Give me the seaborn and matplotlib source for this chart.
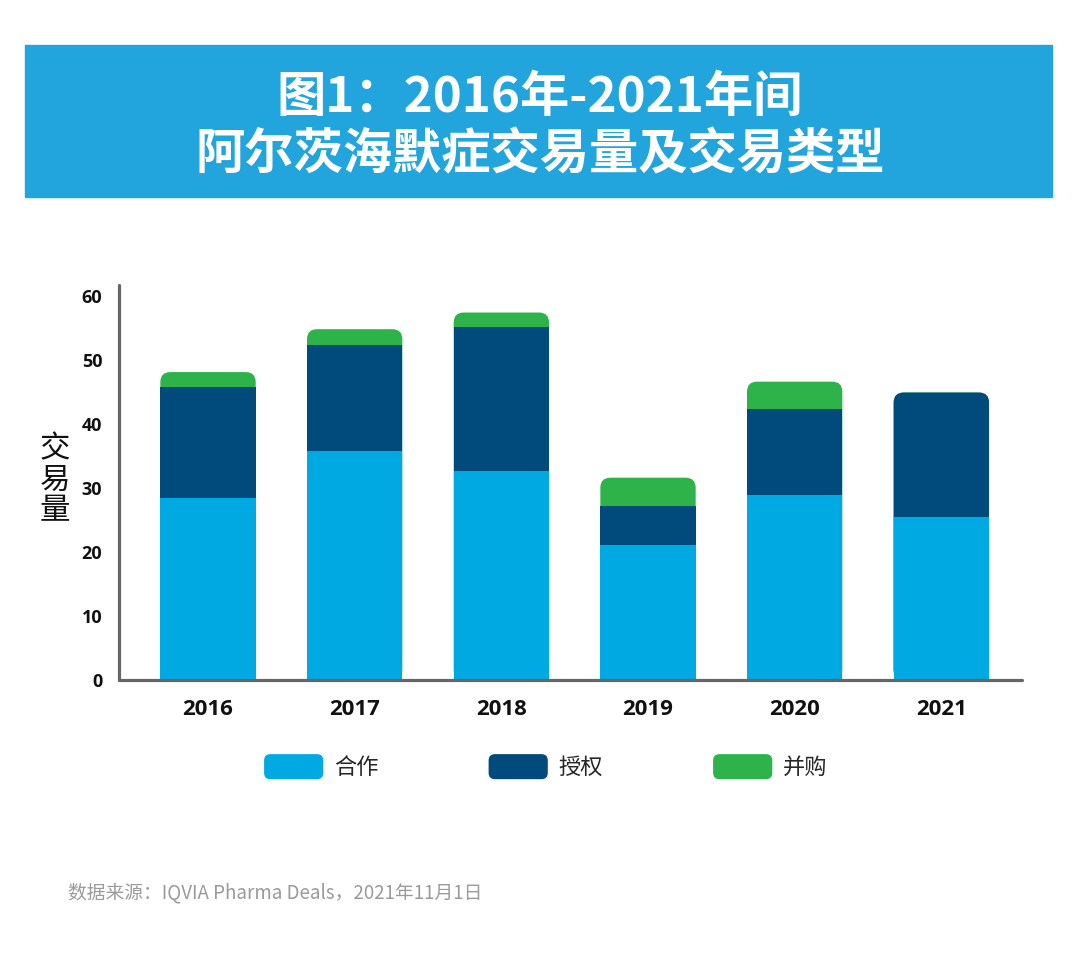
import numpy as np
import pandas as pd
import seaborn as sns
import matplotlib.pyplot as plt
from matplotlib.patches import FancyBboxPatch, Rectangle, Patch
from matplotlib.legend_handler import HandlerPatch

# data
years = ["2016", "2017", "2018", "2019", "2020", "2021"]
hezuo = [28.5, 35.8, 32.6, 21.1, 28.9, 25.4]      # 合作
shouquan = [17.2, 16.6, 22.6, 6.1, 13.4, 19.5]    # 授权
binggou = [2.4, 2.4, 2.2, 4.4, 4.3, 0.0]          # 并购
series_names = ["合作", "授权", "并购"]
colors = ["#00a9e2", "#004a7c", "#2db34a"]
yticks = [0, 10, 20, 30, 40, 50, 60]

df = pd.DataFrame({"year": years, "合作": hezuo, "授权": shouquan, "并购": binggou})
# cumulative levels so that bars can be overlaid back to front
df["lvl1"] = df["合作"]
df["lvl2"] = df["lvl1"] + df["授权"]
df["lvl3"] = df["lvl2"] + df["并购"]

sns.set_theme(style="white")
plt.rcParams["font.family"] = ["Noto Sans CJK SC", "DejaVu Sans"]

W, H = 1080, 976
fig = plt.figure(figsize=(W / 100, H / 100), dpi=100)
fig.patch.set_facecolor("white")

# title banner
fig.add_artist(Rectangle((25 / W, 1 - 197 / H), (1052 - 25) / W, (197 - 45) / H,
                         transform=fig.transFigure, color="#22a5dc", zorder=0))
fig.text(0.5, 1 - 97 / H, "图1：2016年-2021年间", color="white", fontsize=35.5,
         fontweight="bold", ha="center", va="center")
fig.text(0.5, 1 - 155 / H, "阿尔茨海默症交易量及交易类型", color="white", fontsize=35.5,
         fontweight="bold", ha="center", va="center")

ax = fig.add_axes([119 / W, 1 - 680 / H, (1022 - 119) / W, (680 - 285) / H])

layers = ["lvl3", "lvl2", "lvl1"]
for z, (col, c) in enumerate(zip(layers, colors[::-1])):
    sns.barplot(data=df, x="year", y=col, color=c, width=0.65, saturation=1,
                errorbar=None, ax=ax, zorder=1 + z, linewidth=0, edgecolor="none")

xlim = (-0.607, 5.55)
ylim = (0, 61.7)
ax.set_xlim(*xlim)
ax.set_ylim(*ylim)

# round the top corners of each stack
xpp = (1022 - 119) / (xlim[1] - xlim[0])
ypp = (680 - 285) / (ylim[1] - ylim[0])
r = 10 / xpp
asp = xpp / ypp
totals = df["lvl3"].to_numpy()
for i, p in enumerate(list(ax.patches)):
    k = i % len(years)
    if abs(p.get_height() - totals[k]) < 1e-6:
        rp = FancyBboxPatch((p.get_x(), p.get_y()), p.get_width(), p.get_height(),
                            boxstyle=f"round,pad=0,rounding_size={r}",
                            mutation_aspect=asp, fc=p.get_facecolor(), ec="none",
                            lw=0, zorder=p.get_zorder())
        p.remove()
        ax.add_patch(rp)

for s in ["top", "right"]:
    ax.spines[s].set_visible(False)
for s in ["left", "bottom"]:
    ax.spines[s].set_color("#666666")
    ax.spines[s].set_linewidth(2.3)
    ax.spines[s].set_capstyle("round")
    ax.spines[s].set_zorder(6)

ax.set_yticks(yticks)
ax.set_yticklabels([str(t) for t in yticks])
ax.tick_params(axis="y", length=0, pad=12, labelsize=13)
ax.tick_params(axis="x", length=0, pad=14, labelsize=16)
for lab in ax.get_yticklabels() + ax.get_xticklabels():
    lab.set_fontweight("bold")
    lab.set_family(["Open Sans", "DejaVu Sans"])
    lab.set_color("#111111")
ax.set_xlabel("")
ax.set_ylabel("")

fig.text(55 / W, 1 - 480 / H, "交\n易\n量", fontsize=22, ha="center", va="center",
         linespacing=1.0, color="#111111")


def rounded_handle(legend, orig_handle, xdescent, ydescent, width, height, fontsize):
    return FancyBboxPatch((-xdescent, -ydescent), width, height,
                          boxstyle="round,pad=0,rounding_size=4")


handles = [Patch(color=c, label=n) for n, c in zip(series_names, colors)]
fig.legend(handles=handles, loc="center", bbox_to_anchor=(546 / W, 1 - 767 / H), ncol=3,
           frameon=False, fontsize=16, handlelength=2.6, handleheight=1.26,
           handletextpad=0.5, columnspacing=5.0,
           handler_map={Patch: HandlerPatch(patch_func=rounded_handle)})

fig.text(68 / W, 1 - 893 / H, "数据来源：IQVIA Pharma Deals，2021年11月1日",
         color="#9a9a9a", fontsize=13.5, ha="left", va="center")

fig.savefig("out.png", dpi=100)
